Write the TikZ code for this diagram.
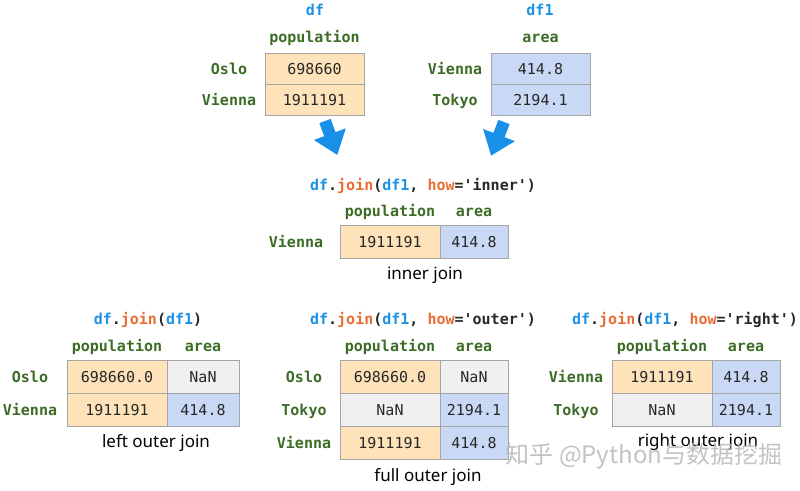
\documentclass[tikz,border=0pt]{standalone}
\usepackage{fontspec}
\setmonofont{DejaVu Sans Mono}
\setsansfont{Noto Sans}
\newfontfamily\cjkfont{Noto Sans CJK SC}
\usetikzlibrary{positioning}
\definecolor{popc}{RGB}{254,226,186}
\definecolor{areac}{RGB}{201,216,245}
\definecolor{nanc}{RGB}{240,240,240}
\definecolor{bordc}{RGB}{165,165,165}
\definecolor{cellc}{RGB}{40,40,40}
\definecolor{lblc}{RGB}{60,108,38}
\definecolor{dfc}{RGB}{28,146,230}
\definecolor{joinc}{RGB}{232,108,52}
\definecolor{arrc}{RGB}{24,144,232}
\tikzset{
  cell/.style={draw=bordc, line width=.8pt, outer sep=0pt, inner sep=0pt,
    minimum width=100pt, minimum height=33pt, text height=14pt, text depth=3pt,
    font=\ttfamily\fontsize{15}{18}\selectfont, text=cellc},
  popcell/.style={cell, fill=popc},
  areacell/.style={cell, fill=areac, minimum width=68pt},
  nancell/.style={cell, fill=nanc, minimum width=68pt},
  lbl/.style={minimum width=60pt, inner sep=0pt, outer sep=0pt, text height=14pt, text depth=3pt,
    font=\ttfamily\bfseries\fontsize{15}{18}\selectfont, text=lblc},
  hdr/.style={inner sep=0pt, text height=8pt, text depth=0pt,
    font=\ttfamily\bfseries\fontsize{15}{18}\selectfont, text=lblc},
  ttl/.style={inner sep=0pt, anchor=base, font=\ttfamily\bfseries\fontsize{15}{18}\selectfont, text=cellc},
  joincap/.style={inner sep=0pt, anchor=base, font=\sffamily\fontsize{17}{20}\selectfont, text=black},
  wmark/.style={inner sep=0pt, font=\cjkfont\fontsize{24}{28}\selectfont, text=black!28, opacity=.85}
}
\newcommand{\bigarrow}[3]{
  \fill[arrc, shift={(#1,#2)}, rotate=#3] (0,6)--(14,6)--(14,17)--(36,0)--(14,-17)--(14,-6)--(0,-6)--cycle
}
\newcommand{\df}{{\color{dfc}df}}
\newcommand{\dfo}{{\color{dfc}df1}}
\newcommand{\jn}{{\color{joinc}join}}
\newcommand{\hw}{{\color{joinc}how}}
\begin{document}
\begin{tikzpicture}[x=1pt, y=-1pt]
    \useasboundingbox (0,0) rectangle (800,490);
    % inputs
    \node[ttl, text=dfc] (tdf) at (315,15) {df};
    \node[popcell, minimum width=99pt, minimum height=31pt, anchor=north west] (a1) at (265,53) {698660};
    \node[popcell, minimum width=99pt, minimum height=31pt, below=0pt of a1] (a2) {1911191};
    \node[hdr, above=10pt of a1] (ha1) {population};
    \node[lbl, left=6pt of a1] (la1) {Oslo};
    \node[lbl, left=6pt of a2] (la2) {Vienna};
    \node[ttl, text=dfc] (tdf1) at (540,15) {df1};
    \node[areacell, minimum width=99pt, minimum height=31pt, anchor=north west] (b1) at (491,53) {414.8};
    \node[areacell, minimum width=99pt, minimum height=31pt, below=0pt of b1] (b2) {2194.1};
    \node[hdr, above=10pt of b1] (hb1) {area};
    \node[lbl, left=6pt of b1] (lb1) {Vienna};
    \node[lbl, left=6pt of b2] (lb2) {Tokyo};
    \bigarrow{325}{121}{-70};
    \bigarrow{504}{122}{-111};
    % inner
    \node[ttl] (tin) at (423,190) {\df.\jn(\dfo, \hw='inner')};
    \node[popcell, anchor=north west] (c1) at (340,225) {1911191};
    \node[areacell, right=0pt of c1] (c2) {414.8};
    \node[hdr, above=8pt of c1] (hc1) {population};
    \node[hdr, above=8pt of c2] (hc2) {area};
    \node[lbl, left=14pt of c1] (lc1) {Vienna};
    \node[joincap] (kin) at (425,279) {inner join};
    % left
    \node[ttl] (tleft) at (148,324) {\df.\jn(\dfo)};
    \node[popcell, anchor=north west] (d1) at (67,360) {698660.0};
    \node[nancell, minimum width=72pt, right=0pt of d1] (d2) {NaN};
    \node[popcell, below=0pt of d1] (d3) {1911191};
    \node[areacell, minimum width=72pt, right=0pt of d3] (d4) {414.8};
    \node[hdr, above=8pt of d1] (hd1) {population};
    \node[hdr, above=8pt of d2] (hd2) {area};
    \node[lbl, left=7pt of d1] (ld1) {Oslo};
    \node[lbl, left=7pt of d3] (ld3) {Vienna};
    \node[joincap] (kleft) at (156,447) {left outer join};
    % outer
    \node[ttl] (tout) at (423,324) {\df.\jn(\dfo, \hw='outer')};
    \node[popcell, anchor=north west] (e1) at (340,360) {698660.0};
    \node[nancell, right=0pt of e1] (e2) {NaN};
    \node[nancell, minimum width=100pt, below=0pt of e1] (e3) {NaN};
    \node[areacell, right=0pt of e3] (e4) {2194.1};
    \node[popcell, below=0pt of e3] (e5) {1911191};
    \node[areacell, right=0pt of e5] (e6) {414.8};
    \node[hdr, above=8pt of e1] (he1) {population};
    \node[hdr, above=8pt of e2] (he2) {area};
    \node[lbl, left=6pt of e1] (le1) {Oslo};
    \node[lbl, left=6pt of e3] (le3) {Tokyo};
    \node[lbl, left=6pt of e5] (le5) {Vienna};
    \node[joincap] (kout) at (428,481) {full outer join};
    % right
    \node[ttl] (tright) at (685,324) {\df.\jn(\dfo, \hw='right')};
    \node[popcell, anchor=north west] (f1) at (612,360) {1911191};
    \node[areacell, right=0pt of f1] (f2) {414.8};
    \node[nancell, minimum width=100pt, below=0pt of f1] (f3) {NaN};
    \node[areacell, right=0pt of f3] (f4) {2194.1};
    \node[hdr, above=8pt of f1] (hf1) {population};
    \node[hdr, above=8pt of f2] (hf2) {area};
    \node[lbl, left=6pt of f1] (lf1) {Vienna};
    \node[lbl, left=6pt of f3] (lf3) {Tokyo};
    \node[joincap] (kright) at (698,446) {right outer join};
    \node[wmark] (wm) at (644,456) {知乎 @Python与数据挖掘};
\end{tikzpicture}
\end{document}
